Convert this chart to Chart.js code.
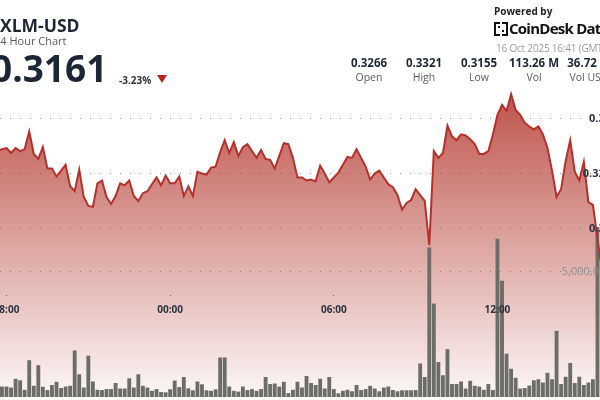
<!DOCTYPE html>
<html><head><meta charset="utf-8">
<script src="https://cdn.jsdelivr.net/npm/chart.js@4"></script>
<style>
html,body{margin:0;padding:0;width:600px;height:400px;overflow:hidden;background:#fff;font-family:"Open Sans",sans-serif;}
#wrap{position:absolute;left:-40px;top:0;width:654px;height:401px;}
.t{position:absolute;white-space:nowrap;line-height:1;}
.col{position:absolute;width:70px;text-align:center;white-space:nowrap;line-height:1;}
.v{font-size:11.5px;font-weight:700;color:#1c2634;top:57px;}
.l{font-size:10.5px;color:#555b63;top:72px;}
</style></head><body>
<div id="wrap"><canvas id="c"></canvas></div>
<div class="t" style="left:0;top:17px;font-size:17.5px;font-weight:700;color:#1c2634">XLM-USD</div>
<div class="t" style="left:-6px;top:35px;font-size:11px;color:#555b63">24 Hour Chart</div>
<div class="t" style="left:-9px;top:48.5px;font-size:37px;font-weight:700;color:#1c2634">0.3161</div>
<div class="t" style="left:119px;top:74.5px;font-size:10px;font-weight:700;color:#2b3340">-3.23%</div>
<div style="position:absolute;left:157px;top:75px;width:0;height:0;border-left:5px solid transparent;border-right:5px solid transparent;border-top:8px solid #b3261e"></div>
<div class="t" style="left:494px;top:6px;font-size:10px;font-weight:700;color:#222">Powered by</div>
<svg style="position:absolute;left:494px;top:22px" width="14" height="14" viewBox="0 0 14 14">
<path d="M0 0h6v2H2v10h4v2H0z M8 0h6v14H8v-2h4V2H8z" fill="#111"/>
<rect x="4" y="4" width="2" height="2" fill="#111"/><rect x="8" y="8" width="2" height="2" fill="#111"/>
</svg>
<div class="t" style="left:509px;top:20.5px;font-size:15px;font-weight:700;color:#111;letter-spacing:-0.75px">CoinDesk Data</div>
<div class="t" style="left:496px;top:42.5px;font-size:10px;color:#9a9a9a;letter-spacing:-0.2px">16 Oct 2025 16:41 (GMT)</div>
<div class="col v" style="left:334px">0.3266</div>
<div class="col v" style="left:389px">0.3321</div>
<div class="col v" style="left:444px">0.3155</div>
<div class="col v" style="left:499px">113.26 M</div>
<div class="col v" style="left:554px">36.72 M</div>
<div class="col l" style="left:334px">Open</div>
<div class="col l" style="left:389px">High</div>
<div class="col l" style="left:444px">Low</div>
<div class="col l" style="left:499px">Vol</div>
<div class="col l" style="left:554px">Vol USD</div>
<script>
// first candle: 15 Oct 2025 17:40, 10-minute candles (minutes since 15 Oct 00:00)
const firstMinute = 1060;
const stepMinutes = 10;
const prices = [
  0.32705,0.32723,0.32732,0.32687,0.32732,0.32705,0.32723,0.32884,0.32679,0.32634,
  0.32741,0.32545,0.32545,0.32473,0.32527,0.32580,0.32384,0.32339,0.32536,0.32286,
  0.32205,0.32196,0.32411,0.32437,0.32286,0.32223,0.32295,0.32411,0.32393,0.32437,
  0.32295,0.32250,0.32321,0.32339,0.32402,0.32464,0.32393,0.32482,0.32411,0.32411,
  0.32473,0.32295,0.32384,0.32295,0.32518,0.32500,0.32491,0.32554,0.32563,0.32696,
  0.32804,0.32687,0.32786,0.32661,0.32741,0.32768,0.32705,0.32643,0.32714,0.32634,
  0.32625,0.32545,0.32661,0.32777,0.32768,0.32643,0.32464,0.32464,0.32437,0.32446,
  0.32429,0.32571,0.32500,0.32420,0.32464,0.32509,0.32580,0.32652,0.32643,0.32723,
  0.32643,0.32563,0.32446,0.32500,0.32527,0.32464,0.32402,0.32375,0.32304,0.32170,
  0.32232,0.32259,0.32357,0.32304,0.32250,0.31848,0.32705,0.32643,0.32687,0.32938,
  0.32839,0.32804,0.32857,0.32848,0.32813,0.32768,0.32679,0.32679,0.32705,0.32857,
  0.33036,0.33125,0.33071,0.33223,0.33080,0.33036,0.32964,0.32929,0.32902,0.32929,
  0.32857,0.32732,0.32527,0.32286,0.32357,0.32616,0.32804,0.32518,0.32437,0.32607,
  0.32241,0.32214,0.31902,0.31616
];
const volumesM = [
  0.39,0.40,0.40,0.36,0.71,0.65,0.27,1.45,0.43,1.25,
  0.39,0.26,0.46,0.59,0.34,0.40,0.43,1.84,0.89,0.36,
  1.63,0.60,0.27,0.26,0.30,0.30,0.54,0.32,0.32,0.73,
  0.36,0.89,0.43,0.36,0.23,0.30,0.18,0.17,0.29,0.64,
  0.38,0.78,0.33,0.25,0.60,0.49,0.25,0.23,0.29,1.56,
  1.56,0.40,0.23,0.20,0.40,0.26,0.30,0.23,0.30,0.78,
  0.50,0.52,0.40,0.59,0.14,0.27,0.59,0.36,0.82,0.54,
  0.46,0.71,0.32,0.78,0.30,0.13,0.23,0.27,0.21,0.46,
  0.26,0.30,0.43,0.32,0.21,0.36,0.40,0.26,0.21,0.25,
  0.25,0.25,0.26,1.32,0.78,5.94,3.71,1.38,0.85,1.89,
  0.50,0.50,0.60,0.32,0.63,0.43,0.40,0.27,0.50,0.26,
  6.29,4.62,1.71,1.11,0.75,0.32,0.34,0.44,0.65,0.69,
  0.56,0.95,0.69,2.62,0.50,0.79,1.34,0.54,0.79,0.46,
  0.56,0.69,6.76,3.04
];
const xTickMinutes = [1080, 1440, 1800, 2160];
const xTickLabels = ['18:00', '00:00', '06:00', '12:00'];
const priceTicks = [0.32, 0.325, 0.33];
const priceTickLabels = ['0.32', '0.325', '0.33'];
const volumeTicksM = [5];

const times = prices.map((_, i) => firstMinute + i * stepMinutes);
const linePts = times.map((t, i) => ({x: t, y: prices[i]}));
const barPts = times.map((t, i) => ({x: t, y: volumesM[i]}));

const fillGrad = (c) => {
  const a = c.chart.chartArea;
  if (!a) return 'rgba(178,52,42,0.4)';
  const g = c.chart.ctx.createLinearGradient(0, a.top + 85, 0, a.bottom);
  g.addColorStop(0, 'rgba(178,52,42,0.85)');
  g.addColorStop(1, 'rgba(178,52,42,0.04)');
  return g;
};
const dotted = {display: false, dash: [1, 9]};

new Chart(document.getElementById('c'), {
  data: {
    datasets: [
      {type: 'line', data: linePts, yAxisID: 'y', xAxisID: 'x', borderColor: '#b5302a', borderWidth: 2,
       pointRadius: 0, tension: 0, fill: 'start', backgroundColor: fillGrad, order: 0},
      {type: 'bar', data: barPts, yAxisID: 'yv', xAxisID: 'x', backgroundColor: '#6c6d66',
       barThickness: 3.2, order: 1}
    ]
  },
  options: {
    responsive: true, maintainAspectRatio: false, animation: false,
    layout: {padding: 0},
    plugins: {legend: {display: false}, tooltip: {enabled: false}, filler: {drawTime: 'beforeDatasetsDraw'}},
    scales: {
      x: {
        type: 'linear', offset: false, min: 977.71, max: 2416.34, position: {y: 0.31393},
        afterFit: s => { s.height = 0; },
        afterBuildTicks: s => { s.ticks = xTickMinutes.map(v => ({value: v})); },
        ticks: {callback: (v, i) => xTickLabels[i], font: {family: 'Open Sans', size: 10, weight: 'bold'},
                color: '#2b3340', padding: 8, maxRotation: 0, autoSkip: false, z: 1},
        grid: {offset: false, drawOnChartArea: false, drawTicks: true, tickLength: 1, tickColor: '#777'},
        border: {display: false}
      },
      y: {
        type: 'linear', position: 'right', min: 0.304643, max: 0.340446,
        afterFit: s => { s.width = 0; },
        afterBuildTicks: s => { s.ticks = priceTicks.map(v => ({value: v})); },
        ticks: {mirror: true, callback: (v, i) => priceTickLabels[i], font: {family: 'Open Sans', size: 11, weight: 'bold'},
                color: '#2b3340', padding: -3, z: 1},
        grid: {color: '#9a9a9a', drawTicks: false},
        border: dotted
      },
      yv: {
        type: 'linear', position: 'right', min: 0, max: 15.664,
        afterFit: s => { s.width = 0; },
        afterBuildTicks: s => { s.ticks = volumeTicksM.map(v => ({value: v})); },
        ticks: {mirror: true, callback: v => (v * 1e6).toLocaleString('en-US'), font: {family: 'Open Sans', size: 11},
                color: '#8e8e8e', padding: -2.5, z: 1},
        grid: {color: '#9a9a9a', drawTicks: false},
        border: dotted
      }
    }
  }
});
</script>
</body></html>
